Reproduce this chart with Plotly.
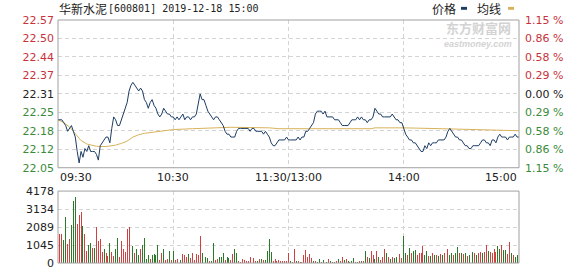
import plotly.graph_objects as go

# ---------------- data ----------------
stock_name = "华新水泥"
stock_info = "[600801] 2019-12-18 15:00"
prev_close = 22.31
pct_limit = 1.15
vol_max = 4178

time_ticks = [0, 60, 120, 180, 240]
time_labels = ["09:30", "10:30", "11:30/13:00", "14:00", "15:00"]
price_labels = ["22.57", "22.50", "22.44", "22.37", "22.31", "22.25", "22.18", "22.12", "22.05"]
pct_labels = ["1.15 %", "0.86 %", "0.58 %", "0.29 %", "0.00 %", "0.29 %", "0.58 %", "0.86 %", "1.15 %"]
vol_labels = ["0", "1045", "2089", "3134", "4178"]

minutes = list(range(241))
price = [
    22.22, 22.22, 22.22, 22.21, 22.20, 22.18, 22.19, 22.20, 22.18, 22.16,
    22.11, 22.07, 22.11, 22.09, 22.12, 22.11, 22.13, 22.11, 22.11, 22.11,
    22.10, 22.08, 22.13, 22.14, 22.15, 22.16, 22.16, 22.14, 22.19, 22.23,
    22.22, 22.20, 22.20, 22.22, 22.24, 22.26, 22.28, 22.32, 22.34, 22.35,
    22.34, 22.33, 22.32, 22.33, 22.32, 22.29, 22.28, 22.26, 22.28, 22.29,
    22.27, 22.26, 22.24, 22.23, 22.24, 22.26, 22.25, 22.24, 22.24, 22.23,
    22.23, 22.22, 22.23, 22.22, 22.23, 22.24, 22.22, 22.23, 22.23, 22.22,
    22.23, 22.23, 22.24, 22.27, 22.31, 22.29, 22.29, 22.27, 22.25, 22.24,
    22.23, 22.22, 22.23, 22.23, 22.22, 22.21, 22.20, 22.18, 22.17, 22.17,
    22.16, 22.16, 22.16, 22.18, 22.19, 22.19, 22.19, 22.19, 22.19, 22.19,
    22.18, 22.19, 22.19, 22.18, 22.18, 22.18, 22.18, 22.17, 22.18, 22.17,
    22.16, 22.14, 22.13, 22.13, 22.14, 22.15, 22.15, 22.15, 22.15, 22.16,
    22.15, 22.15, 22.15, 22.15, 22.15, 22.16, 22.15, 22.16, 22.16, 22.18,
    22.18, 22.19, 22.20, 22.21, 22.24, 22.25, 22.25, 22.25, 22.24, 22.25,
    22.23, 22.23, 22.23, 22.23, 22.22, 22.22, 22.22, 22.21, 22.20, 22.20,
    22.20, 22.20, 22.21, 22.22, 22.22, 22.22, 22.23, 22.22, 22.23, 22.22,
    22.22, 22.21, 22.22, 22.22, 22.23, 22.26, 22.25, 22.24, 22.24, 22.23,
    22.23, 22.23, 22.23, 22.23, 22.24, 22.23, 22.22, 22.22, 22.21, 22.21,
    22.19, 22.17, 22.16, 22.15, 22.15, 22.14, 22.14, 22.13, 22.12, 22.11,
    22.11, 22.13, 22.12, 22.14, 22.13, 22.14, 22.14, 22.14, 22.15, 22.15,
    22.15, 22.15, 22.16, 22.18, 22.19, 22.18, 22.17, 22.16, 22.16, 22.15,
    22.15, 22.14, 22.13, 22.13, 22.12, 22.12, 22.13, 22.13, 22.13, 22.13,
    22.14, 22.15, 22.15, 22.14, 22.14, 22.13, 22.15, 22.15, 22.14, 22.16,
    22.17, 22.16, 22.16, 22.16, 22.15, 22.16, 22.16, 22.16, 22.17, 22.16,
    22.16,
]

avg_minutes = [0, 3, 6, 8, 10, 12, 15, 20, 25, 30, 33, 36, 39, 42, 45, 50, 55, 60,
               70, 80, 90, 110, 115, 150, 163, 165, 180, 200, 220, 240]
avg_price = [22.220, 22.210, 22.195, 22.180, 22.162, 22.148, 22.136, 22.128, 22.127,
             22.132, 22.138, 22.146, 22.160, 22.168, 22.173, 22.178, 22.182, 22.186,
             22.189, 22.192, 22.194, 22.192, 22.189, 22.189, 22.189, 22.192, 22.192,
             22.189, 22.186, 22.182]

volume = [
    1690, 1690, 1690, 1310, 2660, 1120, 1370, 2190, 3620, 3840,
    2250, 2810, 2940, 2150, 1690, 690, 1030, 1180, 880, 880,
    2120, 1260, 1370, 660, 800, 600, 380, 1180, 620, 380,
    840, 1460, 320, 1260, 840, 660, 2000, 2120, 1400, 970,
    560, 840, 470, 840, 1070, 1440, 240, 470, 240, 470,
    510, 470, 1070, 190, 560, 840, 190, 240, 690, 190,
    693, 187, 243, 375, 187, 506, 468, 375, 506, 318,
    562, 187, 506, 468, 1592, 562, 506, 375, 281, 131,
    131, 1180, 187, 243, 375, 375, 562, 187, 375, 318,
    187, 506, 805, 562, 131, 56, 243, 187, 131, 94,
    375, 375, 318, 131, 94, 243, 243, 187, 150, 693,
    1367, 655, 131, 243, 131, 187, 94, 131, 94, 131,
    562, 131, 56, 805, 94, 94, 56, 56, 468, 749,
    375, 506, 281, 94, 94, 56, 243, 56, 187, 94,
    56, 243, 94, 56, 56, 94, 243, 131, 375, 187,
    243, 94, 56, 94, 318, 56, 56, 94, 94, 131,
    693, 375, 281, 693, 468, 243, 693, 375, 187, 375,
    805, 562, 375, 243, 375, 318, 375, 468, 506, 300,
    1555, 565, 471, 847, 565, 715, 753, 471, 565, 565,
    979, 471, 715, 414, 414, 565, 471, 471, 414, 527,
    471, 565, 471, 791, 471, 565, 471, 603, 904, 565,
    603, 527, 565, 414, 471, 565, 659, 565, 471, 603,
    659, 565, 659, 1036, 715, 659, 565, 791, 659, 979,
    791, 1036, 753, 753, 500, 1224, 565, 471, 377, 450,
    2260,
]
# r = up minute (red), g = down minute (green)
vol_dir = ("rrrggrrggg" "rrrgrrggrg" "rrrrgrrgrr" "ggrrrrrrrg" "rggrggggrg"
           "gggrrgrrgr" "grrggrrrgr" "rrrrrggggr" "ggrrgggrgg" "rrggrrrrrr"
           "rrrrgrgrgg" "ggrrrrrrrr" "rgrrgrgrrr" "rrrgrggrgr" "grgrgrgrrg"
           "rgrggrgrgr" "grgrrgrgrr" "rgrgrggrrr" "ggrgrggrrr" "rggrgrgrgr"
           "grgrggrggr" "grgrgrgrgr" "rgrrgrrrrg" "grggrrgrgg" "g")

# ---------------- styling ----------------
RED = "#c8323c"
GREEN = "#3a8a3a"
BLACK = "#222222"
PRICE_COLOR = "#1c3c64"
AVG_COLOR = "#d8b25a"
GRID = "#d4d4d4"
BORDER = "#a0a0a0"
NUM_FONT = "DejaVu Sans"
CJK_FONT = "Noto Sans CJK SC"

lo = prev_close * (1 - pct_limit / 100)
hi = prev_close * (1 + pct_limit / 100)
n_lab = len(price_labels)
price_tickvals = [hi - i * (hi - lo) / (n_lab - 1) for i in range(n_lab)]
mid = n_lab // 2


def colored(labels):
    out = []
    for i, t in enumerate(labels):
        c = RED if i < mid else (BLACK if i == mid else GREEN)
        out.append(f"<span style='color:{c}'>{t}</span>")
    return out


vol_tickvals = [vol_max * i / (len(vol_labels) - 1) for i in range(len(vol_labels))]
bar_colors = ["#cf4040" if d == "r" else "#2a7a2a" for d in vol_dir]

fig = go.Figure()
fig.add_trace(go.Scatter(x=avg_minutes, y=avg_price, mode="lines",
                         line=dict(color=AVG_COLOR, width=1), xaxis="x", yaxis="y",
                         hoverinfo="skip"))
fig.add_trace(go.Scatter(x=minutes, y=price, mode="lines",
                         line=dict(color=PRICE_COLOR, width=1), xaxis="x", yaxis="y",
                         hoverinfo="skip"))
# same price series on the percentage axis (invisible) so the right axis is drawn
fig.add_trace(go.Scatter(x=minutes, y=price, mode="lines", opacity=0,
                         line=dict(color=PRICE_COLOR, width=1), xaxis="x", yaxis="y2",
                         hoverinfo="skip"))
fig.add_trace(go.Bar(x=minutes, y=volume, marker=dict(color=bar_colors, line=dict(width=0)),
                     width=0.5, xaxis="x2", yaxis="y3", hoverinfo="skip"))

W, H = 578, 276
ML, MR, MT, MB = 58, 59, 20, 6
PH = H - MT - MB
PW = W - ML - MR


def py(pix):
    return (H - MB - pix) / PH


def px(pix):
    return (pix - ML) / PW


price_dom = [py(172), 1]
vol_dom = [0, py(196)]

grid_common = dict(showgrid=True, gridcolor=GRID, griddash="4px,3px", gridwidth=1,
                   zeroline=False, showline=False)

fig.update_layout(
    width=W, height=H,
    margin=dict(l=ML, r=MR, t=MT, b=MB, pad=0),
    paper_bgcolor="white", plot_bgcolor="white",
    showlegend=False, bargap=0,
    xaxis=dict(domain=[0, 1], range=[0, 240], anchor="y", tickvals=time_ticks[1:-1],
               showticklabels=False, ticks="", **grid_common),
    xaxis2=dict(domain=[0, 1], range=[0, 240], anchor="y3", matches="x",
                tickvals=time_ticks[1:-1], showticklabels=False, ticks="", **grid_common),
    yaxis=dict(domain=price_dom, range=[lo, hi], tickvals=price_tickvals,
               ticktext=colored(price_labels), ticks="", ticklabelstandoff=3,
               tickfont=dict(family=NUM_FONT, size=11), **grid_common),
    yaxis2=dict(range=[lo, hi], overlaying="y", side="right",
                anchor="x", tickvals=price_tickvals, ticktext=colored(pct_labels),
                ticks="", ticklabelstandoff=5, showgrid=False, zeroline=False,
                showticklabels=True, visible=True,
                tickfont=dict(family=NUM_FONT, size=11)),
    yaxis3=dict(domain=vol_dom, range=[0, vol_max], anchor="x2", tickvals=vol_tickvals,
                ticktext=vol_labels, ticks="", ticklabelstandoff=3,
                tickfont=dict(family=NUM_FONT, size=11, color=BLACK), **grid_common),
)

shapes = [
    dict(type="rect", xref="paper", yref="y domain", x0=0, x1=1, y0=0, y1=1,
         line=dict(color=BORDER, width=1), layer="above"),
    dict(type="rect", xref="paper", yref="y3 domain", x0=0, x1=1, y0=0, y1=1,
         line=dict(color=BORDER, width=1), layer="above"),
    # legend swatches
    dict(type="rect", xref="paper", yref="paper", x0=px(461), x1=px(467), y0=py(9.5), y1=py(6.5),
         fillcolor=PRICE_COLOR, line=dict(width=0)),
    dict(type="rect", xref="paper", yref="paper", x0=px(508), x1=px(514), y0=py(9.5), y1=py(6.5),
         fillcolor=AVG_COLOR, line=dict(width=0)),
]
fig.update_layout(shapes=shapes)

ann = []
# title
ann.append(dict(text=stock_name, x=px(57), y=py(8.5), xref="paper", yref="paper",
                xanchor="left", yanchor="middle", showarrow=False,
                font=dict(family=CJK_FONT, size=12, color=BLACK)))
ann.append(dict(text=stock_info, x=px(106), y=py(8.5), xref="paper", yref="paper",
                xanchor="left", yanchor="middle", showarrow=False,
                font=dict(family="DejaVu Sans Mono", size=10, color=BLACK)))
# legend labels
ann.append(dict(text="价格", x=px(444), y=py(8.5), xref="paper", yref="paper",
                xanchor="center", yanchor="middle", showarrow=False,
                font=dict(family=CJK_FONT, size=12, color=BLACK)))
ann.append(dict(text="均线", x=px(489), y=py(8.5), xref="paper", yref="paper",
                xanchor="center", yanchor="middle", showarrow=False,
                font=dict(family=CJK_FONT, size=12, color=BLACK)))
# watermark
ann.append(dict(text="<b>东方财富网</b>", x=px(478), y=py(27.5), xref="paper", yref="paper",
                xanchor="center", yanchor="middle", showarrow=False,
                font=dict(family=CJK_FONT, size=13, color="#d3d3d3")))
ann.append(dict(text="<b><i>eastmoney.com</i></b>", x=px(478), y=py(44.5), xref="paper",
                yref="paper", xanchor="center", yanchor="middle", showarrow=False,
                font=dict(family="Liberation Sans", size=9, color="#d3d3d3")))
# time labels
for i, (t, lab) in enumerate(zip(time_ticks, time_labels)):
    anchor = "left" if i == 0 else ("right" if i == len(time_ticks) - 1 else "center")
    ann.append(dict(text=lab, x=t, y=py(182.5), xref="x", yref="paper", xanchor=anchor,
                    yanchor="middle", showarrow=False,
                    font=dict(family=NUM_FONT, size=11, color=BLACK)))
fig.update_layout(annotations=ann)

fig.write_html("out.html", config={"displayModeBar": False, "staticPlot": True})
